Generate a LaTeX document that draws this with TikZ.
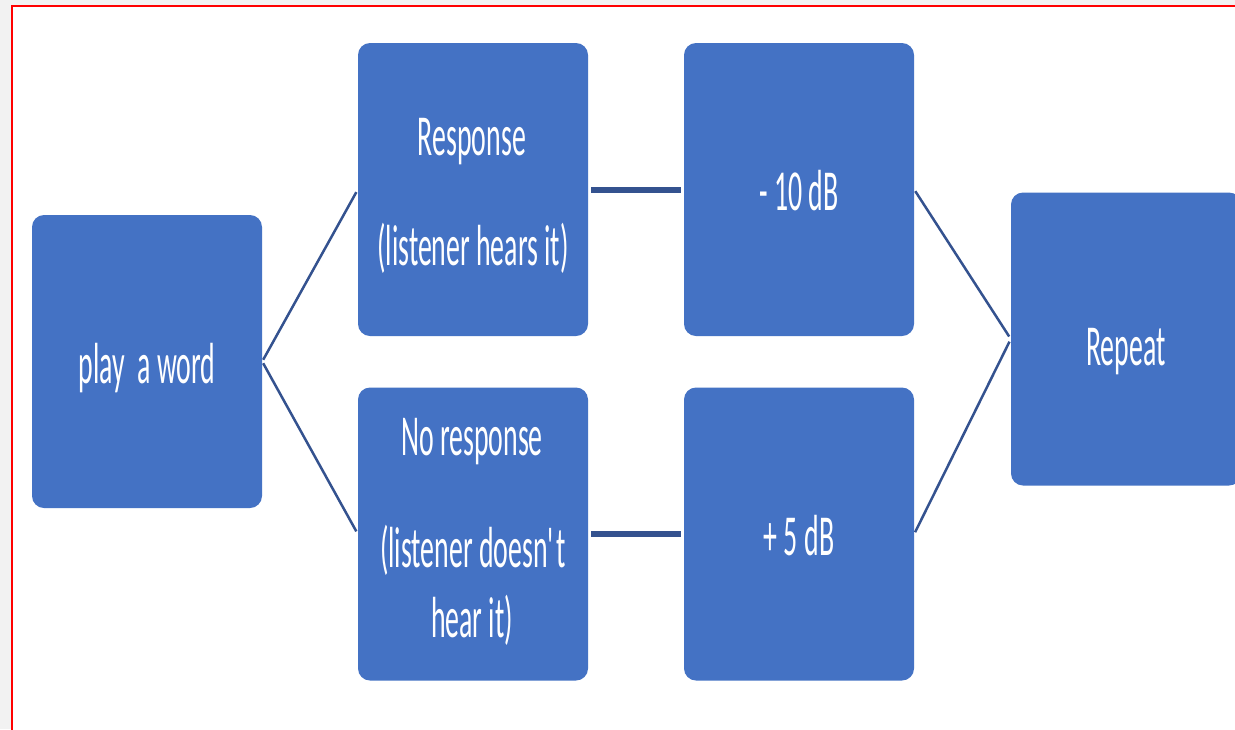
\documentclass[tikz,border=0pt]{standalone}
\usepackage{fontspec}
\setmainfont{Carlito}[FakeStretch=0.48]
\definecolor{boxblue}{HTML}{4472C4}
\definecolor{linkblue}{HTML}{34528F}
\definecolor{pagegrey}{HTML}{F2F2F2}
\begin{document}
\begin{tikzpicture}[x=1pt,y=-1pt,
  box/.style={fill=boxblue, draw=none, rounded corners=12pt, minimum width=230pt, minimum height=293pt, inner sep=0pt},
  txt/.style={text=white, anchor=base, inner sep=0pt, font=\fontsize{58}{70}\selectfont},
  thin link/.style={draw=linkblue, line width=2.5pt, shorten <=2pt, shorten >=3pt},
  thick link/.style={draw=linkblue, line width=6pt, shorten <=3pt, shorten >=3pt}]
\useasboundingbox (0,0) rectangle (1235,729);
\fill[pagegrey] (0,0) rectangle (1235,729);
\draw[red, line width=2pt, fill=white] (12,5.5) rectangle (1245,740);

\node[box] (play) at (147,361.5) {};
\node[box] (resp) at (473,189.5) {};
\node[box] (nores) at (473,534) {};
\node[box] (minus) at (799,189.5) {};
\node[box] (plus) at (799,534) {};
\node[box] (rep) at (1126,339) {};

\node[txt] (tplay) at (147,383) {play\ \ a word};
\node[txt] (tresp1) at (472,155) {Response};
\node[txt] (tresp2) at (473,265) {(listener hears it)};
\node[txt] (tno1) at (472,455) {No response};
\node[txt] (tno2) at (473,567) {(listener doesn\textquotesingle\kern-4pt t};
\node[txt] (tno3) at (472,637) {hear it)};
\node[txt] (tminus) at (799,210) {- 10 dB};
\node[txt] (tplus) at (799,555) {+ 5 dB};
\node[txt] (trep) at (1126,365) {Repeat};

\draw[thin link] (play.east) -- (resp.west);
\draw[thin link] (play.east) -- (nores.west);
\draw[thick link] (resp.east) -- (minus.west);
\draw[thick link] (nores.east) -- (plus.west);
\draw[thin link] (minus.east) -- (rep.west);
\draw[thin link] (plus.east) -- (rep.west);
\end{tikzpicture}
\end{document}
